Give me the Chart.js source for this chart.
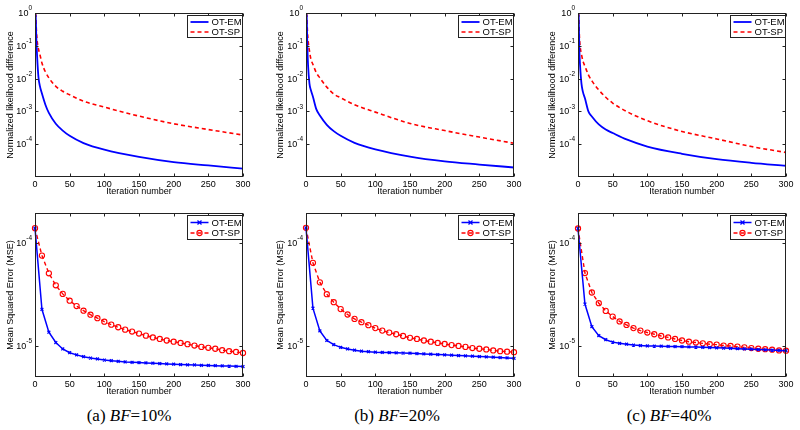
<!DOCTYPE html>
<html>
<head>
<meta charset="utf-8">
<script src="https://cdn.jsdelivr.net/npm/chart.js@4.4.1/dist/chart.umd.min.js"></script>
<style>
    body { margin: 0; background: #fff; width: 800px; height: 430px; position: relative; overflow: hidden; }
    canvas { position: absolute; }
    .cap { position: absolute; top: 406px; width: 160px; line-height: 20px; text-align: center; font-family: "Liberation Serif", serif; font-size: 17px; color: #000; }
</style>
</head>
<body>
<canvas id="likA" width="260" height="200" style="left:0px;top:0px"></canvas>
<canvas id="likB" width="260" height="200" style="left:270px;top:0px"></canvas>
<canvas id="likC" width="258" height="200" style="left:542px;top:0px"></canvas>
<canvas id="mseA" width="260" height="200" style="left:0px;top:200px"></canvas>
<canvas id="mseB" width="260" height="200" style="left:270px;top:200px"></canvas>
<canvas id="mseC" width="258" height="200" style="left:542px;top:200px"></canvas>
<div class="cap" style="left:49px">(a) <i>BF</i>=10%</div>
<div class="cap" style="left:317px">(b) <i>BF</i>=20%</div>
<div class="cap" style="left:589px">(c) <i>BF</i>=40%</div>
<script>
var iterLik = [1, 2, 3, 5, 7, 10, 15, 20, 30, 40, 50, 70, 100, 150, 200, 250, 300]

var likEmA = [0.9, 0.15, 0.05, 0.011, 6e-3, 3.5e-3, 1.6e-3, 9e-4, 4.2e-4, 2.6e-4, 1.8e-4, 1.08e-4, 6.8e-5, 4.1e-5, 2.85e-5, 2.25e-5, 1.8e-5]
var likSpA = [1.0, 0.3, 0.15, 0.08, 0.055, 0.03, 0.016, 0.0105, 5.8e-3, 4.1e-3, 3.2e-3, 2.05e-3, 1.35e-3, 7.2e-4, 4.2e-4, 2.8e-4, 1.9e-4]

var likEmB = [0.9, 0.09, 0.025, 7e-3, 4.5e-3, 2.8e-3, 1.15e-3, 7.5e-4, 3.9e-4, 2.5e-4, 1.8e-4, 1.1e-4, 7e-5, 4.2e-5, 3e-5, 2.4e-5, 1.95e-5]
var likSpB = [1.0, 0.3, 0.15, 0.07, 0.04, 0.027, 0.015, 0.0105, 5.5e-3, 3.4e-3, 2.6e-3, 1.6e-3, 9.5e-4, 4.3e-4, 2.6e-4, 1.65e-4, 1.07e-4]

var likEmC = [0.9, 0.07, 0.025, 7e-3, 4e-3, 2.5e-3, 1.0e-3, 7e-4, 4e-4, 2.8e-4, 2.2e-4, 1.4e-4, 8.5e-5, 5.1e-5, 3.5e-5, 2.7e-5, 2.2e-5]
var likSpC = [1.0, 0.2, 0.1, 0.055, 0.035, 0.024, 0.013, 8.5e-3, 4.5e-3, 2.7e-3, 1.8e-3, 1.0e-3, 5.2e-4, 2.45e-4, 1.45e-4, 8.5e-5, 5.6e-5]

// MSE is marked every 10 iterations
var iterMse = [0, 10, 20, 30, 40, 50, 60, 70, 80, 90, 100, 110, 120, 130, 140, 150, 160, 170, 180, 190, 200, 210, 220, 230, 240, 250, 260, 270, 280, 290, 300]

var mseEmA = [1.39e-4, 2.27e-5, 1.36e-5, 1.08e-5, 9.35e-6, 8.6e-6, 8.2e-6, 7.87e-6, 7.64e-6, 7.48e-6, 7.3e-6, 7.2e-6, 7.1e-6, 7.0e-6, 6.95e-6, 6.9e-6, 6.85e-6, 6.8e-6, 6.75e-6, 6.7e-6, 6.65e-6, 6.6e-6, 6.57e-6, 6.54e-6, 6.5e-6, 6.47e-6, 6.44e-6, 6.41e-6, 6.38e-6, 6.35e-6, 6.32e-6]
var mseSpA = [1.39e-4, 7.53e-5, 5.07e-5, 3.88e-5, 3.2e-5, 2.75e-5, 2.44e-5, 2.2e-5, 2.01e-5, 1.86e-5, 1.72e-5, 1.61e-5, 1.52e-5, 1.44e-5, 1.38e-5, 1.32e-5, 1.26e-5, 1.21e-5, 1.17e-5, 1.13e-5, 1.1e-5, 1.07e-5, 1.04e-5, 1.01e-5, 9.8e-6, 9.6e-6, 9.4e-6, 9.1e-6, 8.9e-6, 8.75e-6, 8.55e-6]

var mseEmB = [1.4e-4, 2.33e-5, 1.4e-5, 1.13e-5, 1.03e-5, 9.7e-6, 9.35e-6, 9.1e-6, 8.9e-6, 8.8e-6, 8.7e-6, 8.66e-6, 8.62e-6, 8.58e-6, 8.54e-6, 8.5e-6, 8.44e-6, 8.38e-6, 8.32e-6, 8.26e-6, 8.2e-6, 8.14e-6, 8.08e-6, 8.02e-6, 7.96e-6, 7.9e-6, 7.84e-6, 7.78e-6, 7.72e-6, 7.66e-6, 7.6e-6]
var mseSpB = [1.4e-4, 6.4e-5, 4.14e-5, 3.18e-5, 2.66e-5, 2.28e-5, 2.02e-5, 1.83e-5, 1.7e-5, 1.59e-5, 1.49e-5, 1.41e-5, 1.35e-5, 1.3e-5, 1.25e-5, 1.2e-5, 1.17e-5, 1.13e-5, 1.1e-5, 1.07e-5, 1.045e-5, 1.02e-5, 1.0e-5, 9.8e-6, 9.55e-6, 9.4e-6, 9.25e-6, 9.05e-6, 8.9e-6, 8.8e-6, 8.7e-6]

var mseEmC = [1.38e-4, 2.55e-5, 1.54e-5, 1.26e-5, 1.15e-5, 1.09e-5, 1.06e-5, 1.04e-5, 1.02e-5, 1.01e-5, 1.0e-5, 9.97e-6, 9.94e-6, 9.91e-6, 9.88e-6, 9.85e-6, 9.8e-6, 9.75e-6, 9.7e-6, 9.65e-6, 9.6e-6, 9.54e-6, 9.48e-6, 9.42e-6, 9.36e-6, 9.3e-6, 9.24e-6, 9.18e-6, 9.12e-6, 9.06e-6, 9.0e-6]
var mseSpC = [1.38e-4, 5.1e-5, 3.3e-5, 2.6e-5, 2.19e-5, 1.93e-5, 1.73e-5, 1.6e-5, 1.49e-5, 1.41e-5, 1.35e-5, 1.3e-5, 1.25e-5, 1.21e-5, 1.17e-5, 1.13e-5, 1.1e-5, 1.08e-5, 1.06e-5, 1.04e-5, 1.03e-5, 1.01e-5, 1.0e-5, 9.85e-6, 9.7e-6, 9.55e-6, 9.4e-6, 9.3e-6, 9.2e-6, 9.05e-6, 9.0e-6]

var seriesNames = ["OT-EM", "OT-SP"]
var xTicks = [0, 50, 100, 150, 200, 250, 300]
var likDecades = [1, 1e-1, 1e-2, 1e-3, 1e-4]
var mseDecades = [1e-4, 1e-5]

var FONT = "Liberation Sans, Arial, sans-serif"

// pairs two arrays into {x, y} points
function toPoints(xs, ys) {
    return xs.map(function (x, i) { return { x: x, y: ys[i] } })
}

// draws the matlab look: closed box, inward ticks, 10^n labels and the legend in the corner
var matlabAxes = {
    id: "matlabAxes",
    afterDraw: function (chart, args, opts) {
        var ctx = chart.ctx
        var a = chart.chartArea
        var xs = chart.scales.x
        var ys = chart.scales.y
        var L = Math.round(a.left) + 0.5, R = Math.round(a.right) - 0.5
        var T = Math.round(a.top) + 0.5, B = Math.round(a.bottom) - 0.5

        ctx.save()
        ctx.strokeStyle = "#222"
        ctx.lineWidth = 1
        ctx.strokeRect(L, T, R - L, B - T)

        ctx.beginPath()
        xs.ticks.forEach(function (t) {
            var px = Math.round(xs.getPixelForValue(t.value)) + 0.5
            ctx.moveTo(px, B); ctx.lineTo(px, B - 3)
            ctx.moveTo(px, T); ctx.lineTo(px, T + 3)
        })
        ys.ticks.forEach(function (t) {
            var py = Math.round(ys.getPixelForValue(t.value)) + 0.5
            ctx.moveTo(L, py); ctx.lineTo(L + 3, py)
            ctx.moveTo(R, py); ctx.lineTo(R - 3, py)
        })
        ctx.stroke()

        // y labels: "10" plus a small raised power
        ctx.fillStyle = "#000"
        ctx.textAlign = "right"
        ctx.textBaseline = "middle"
        ys.ticks.forEach(function (t) {
            var py = ys.getPixelForValue(t.value)
            var p = String(Math.round(Math.log10(t.value)))
            var x = a.left - 3
            ctx.font = "6.5px " + FONT
            var pw = ctx.measureText(p).width
            ctx.fillText(p, x, py - 4.5)
            ctx.font = "9px " + FONT
            ctx.fillText("10", x - pw, py + 0.5)
        })

        // legend box, top right inside the plot
        var w = 56, h = opts.legendH
        var bx = Math.round(a.right - w) + 0.5, by = Math.round(a.top + 2) + 0.5
        ctx.fillStyle = "#fff"
        ctx.fillRect(bx, by, w - 1, h)
        ctx.strokeStyle = "#222"
        ctx.setLineDash([])
        ctx.strokeRect(bx, by, w - 1, h)

        chart.data.datasets.forEach(function (ds, i) {
            var ry = by + opts.rowY[i]
            ctx.strokeStyle = ds.borderColor
            ctx.lineWidth = ds.borderWidth
            ctx.setLineDash(ds.borderDash || [])
            ctx.beginPath()
            ctx.moveTo(bx + 3, ry)
            ctx.lineTo(bx + 21, ry)
            ctx.stroke()
            ctx.setLineDash([])
            if (ds.pointRadius > 0) {
                var mx = bx + 12, r = ds.pointRadius
                ctx.lineWidth = ds.pointBorderWidth
                ctx.beginPath()
                if (ds.pointStyle == "circle") {
                    ctx.arc(mx, ry, r, 0, Math.PI * 2)
                } else {
                    ctx.moveTo(mx - r, ry - r); ctx.lineTo(mx + r, ry + r)
                    ctx.moveTo(mx - r, ry + r); ctx.lineTo(mx + r, ry - r)
                }
                ctx.stroke()
            }
            ctx.fillStyle = "#000"
            ctx.textAlign = "left"
            ctx.textBaseline = "middle"
            ctx.font = "9.5px " + FONT
            ctx.fillText(ds.label, bx + 24, ry + 0.5)
        })
        ctx.restore()
    }
}

function makePanel(id, yLeft, padRight, yMin, yMax, decades, yTitle, datasets, legend) {
    var config = {
        type: "line",
        data: { datasets: datasets },
        options: {
            responsive: false,
            animation: false,
            events: [],
            layout: { padding: { top: 13, right: padRight, left: 0, bottom: 0 } },
            plugins: {
                legend: { display: false },
                tooltip: { enabled: false },
                matlabAxes: legend
            },
            scales: {
                x: {
                    type: "linear",
                    min: 0,
                    max: 300,
                    afterBuildTicks: function (scale) {
                        scale.ticks = xTicks.map(function (v) { return { value: v } })
                    },
                    afterFit: function (scale) { scale.height = 23 },
                    grid: { display: false, drawTicks: false },
                    border: { display: false },
                    ticks: { color: "#000", padding: 2, maxRotation: 0, font: { family: FONT, size: 9 } },
                    title: { display: true, text: "Iteration number", color: "#000", padding: { top: 0, bottom: 3 }, font: { family: FONT, size: 9 } }
                },
                y: {
                    type: "logarithmic",
                    min: yMin,
                    max: yMax,
                    afterBuildTicks: function (scale) {
                        scale.ticks = decades.map(function (v) { return { value: v } })
                    },
                    afterFit: function (scale) { scale.width = yLeft },
                    grid: { display: false, drawTicks: false },
                    border: { display: false },
                    ticks: { display: false },
                    title: { display: true, text: yTitle, color: "#000", padding: { top: 5, bottom: 0 }, font: { family: FONT, size: 9 } }
                }
            }
        },
        plugins: [matlabAxes]
    }
    return new Chart(document.getElementById(id), config)
}

// smooth curves, no markers
function likSets(em, sp) {
    return [
        { label: seriesNames[0], data: toPoints(iterLik, em), borderColor: "#0000ff", borderWidth: 1.8, pointRadius: 0, cubicInterpolationMode: "monotone" },
        { label: seriesNames[1], data: toPoints(iterLik, sp), borderColor: "#ff0000", borderWidth: 1.6, borderDash: [4, 3], pointRadius: 0, cubicInterpolationMode: "monotone" }
    ]
}

// straight segments with markers
function mseSets(em, sp) {
    return [
        { label: seriesNames[0], data: toPoints(iterMse, em), borderColor: "#0000ff", borderWidth: 1.5, pointStyle: "crossRot", pointRadius: 2, pointBorderWidth: 1.3, pointBorderColor: "#0000ff", clip: 8 },
        { label: seriesNames[1], data: toPoints(iterMse, sp), borderColor: "#ff0000", borderWidth: 1.4, borderDash: [4, 3], pointStyle: "circle", pointRadius: 2.6, pointBorderWidth: 1.1, pointBorderColor: "#ff0000", pointBackgroundColor: "rgba(255,255,255,0)", clip: 8 }
    ]
}

var likLegend = { legendH: 22, rowY: [6.5, 16.5] }
var mseLegend = { legendH: 24, rowY: [7, 17.5] }
var likTitle = "Normalized likelihood difference"
var mseTitle = "Mean Squared Error (MSE)"

makePanel("likA", 35, 17, 1e-5, 1, likDecades, likTitle, likSets(likEmA, likSpA), likLegend)
makePanel("likB", 36, 16, 1e-5, 1, likDecades, likTitle, likSets(likEmB, likSpB), likLegend)
makePanel("likC", 36, 14, 1e-5, 1, likDecades, likTitle, likSets(likEmC, likSpC), likLegend)
makePanel("mseA", 35, 17, 5e-6, 1.95e-4, mseDecades, mseTitle, mseSets(mseEmA, mseSpA), mseLegend)
makePanel("mseB", 36, 16, 5e-6, 1.95e-4, mseDecades, mseTitle, mseSets(mseEmB, mseSpB), mseLegend)
makePanel("mseC", 36, 14, 5e-6, 1.95e-4, mseDecades, mseTitle, mseSets(mseEmC, mseSpC), mseLegend)
</script>
</body>
</html>
